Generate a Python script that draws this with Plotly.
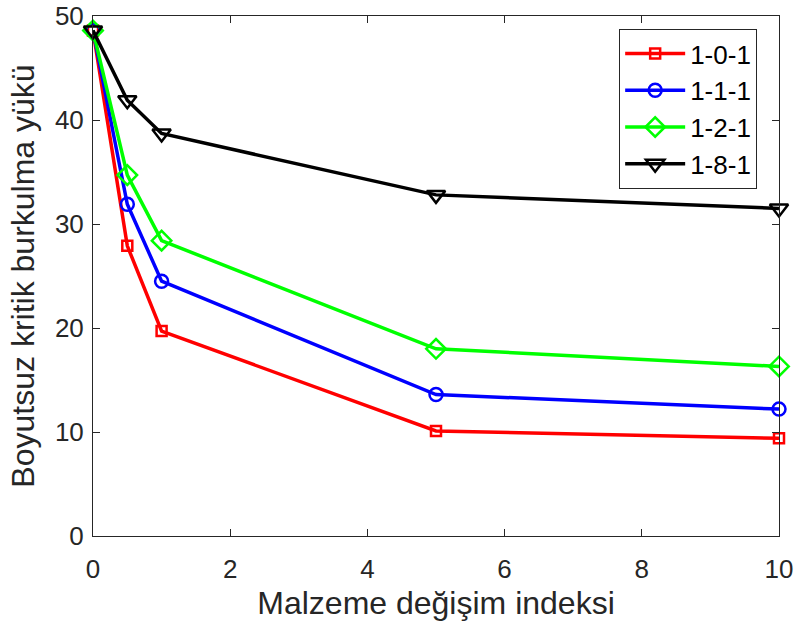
import plotly.graph_objects as go

x_vals = [0, 0.5, 1, 5, 10]
s_101 = [48.6, 27.9, 19.7, 10.1, 9.4]
s_111 = [48.6, 31.9, 24.5, 13.6, 12.2]
s_121 = [48.6, 34.7, 28.4, 18.0, 16.3]
s_181 = [48.6, 41.9, 38.7, 32.8, 31.5]
names = ["1-0-1", "1-1-1", "1-2-1", "1-8-1"]
colors = ["#FF0000", "#0000FF", "#00FF00", "#000000"]
symbols = ["square-open", "circle-open", "diamond-open", "triangle-down-open"]
msizes = [10, 13, 15, 16]

FONT = "Liberation Sans, Arial"

fig = go.Figure()
for ys, nm, c, sym, ms in zip([s_101, s_111, s_121, s_181], names, colors, symbols, msizes):
    fig.add_trace(go.Scatter(
        x=x_vals, y=ys, name=nm, mode="lines+markers",
        line=dict(color=c, width=3.5),
        marker=dict(symbol=sym, size=ms, color=c, line=dict(width=2.5, color=c)),
        cliponaxis=False,
    ))

axis_common = dict(
    showline=True, linecolor="#262626", linewidth=1, mirror="ticks",
    ticks="inside", ticklen=7, tickcolor="#262626", tickwidth=1,
    showgrid=False, zeroline=False, ticklabeloverflow="allow", automargin=False,
    tickfont=dict(family=FONT, size=26, color="#262626"),
)

fig.update_layout(
    width=797, height=633,
    margin=dict(l=93, r=18, t=16, b=97, autoexpand=False),
    plot_bgcolor="white", paper_bgcolor="white",
    xaxis=dict(range=[0, 10], tickvals=[0, 2, 4, 6, 8, 10], ticklabelstandoff=10,
               title=dict(text="Malzeme değişim indeksi", standoff=8,
                          font=dict(family=FONT, size=32, color="#262626")),
               **axis_common),
    yaxis=dict(range=[0, 50], tickvals=[0, 10, 20, 30, 40, 50], ticklabelstandoff=3,
               title=dict(text="Boyutsuz kritik burkulma yükü", standoff=10,
                          font=dict(family=FONT, size=32, color="#262626")),
               **axis_common),
    legend=dict(x=0.767, y=0.975, xanchor="left", yanchor="top",
                bordercolor="#262626", borderwidth=1, bgcolor="white",
                font=dict(family=FONT, size=26, color="#000000"),
                itemwidth=60, tracegroupgap=0),
    showlegend=True,
)

fig.write_html("out.html")
